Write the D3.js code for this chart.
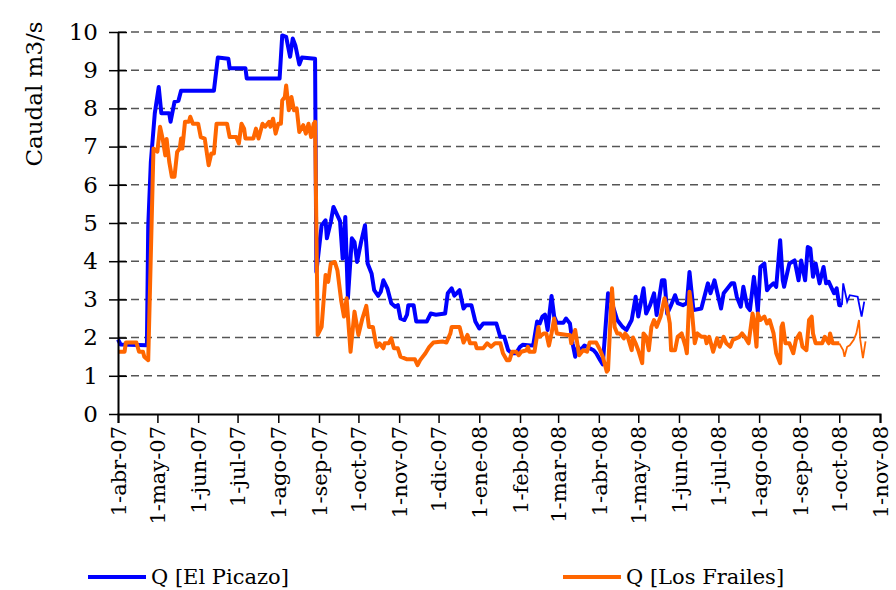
<!DOCTYPE html>
<html>
  <head>
    <meta charset="UTF-8" />
    <title>Caudal El Picazo / Los Frailes</title>
    <script src="https://cdn.jsdelivr.net/npm/d3@7"></script>
    <style>
      body { margin: 0; background: #fff; }
      svg text { font-family: "DejaVu Serif", serif; fill: #000; }
    </style>
  </head>
  <body>
    <div class="chart"></div>
    <script>
      // daily flows, [date, m3/s]
      let picazo = [
        ["2007-04-01", 1.95], ["2007-04-03", 1.82], ["2007-04-23", 1.8], ["2007-04-24", 4.9],
        ["2007-04-26", 6.6], ["2007-04-29", 7.87], ["2007-05-02", 8.56], ["2007-05-04", 7.87],
        ["2007-05-10", 7.87], ["2007-05-11", 7.65], ["2007-05-14", 8.17], ["2007-05-17", 8.2],
        ["2007-05-19", 8.46], ["2007-06-13", 8.46], ["2007-06-16", 9.33], ["2007-06-24", 9.3],
        ["2007-06-25", 9.05], ["2007-07-07", 9.05], ["2007-07-08", 8.78], ["2007-08-02", 8.78],
        ["2007-08-04", 9.91], ["2007-08-07", 9.87], ["2007-08-10", 9.35], ["2007-08-12", 9.83],
        ["2007-08-14", 9.65], ["2007-08-17", 9.15], ["2007-08-19", 9.33], ["2007-08-29", 9.3],
        ["2007-08-30", 3.72], ["2007-09-03", 4.94], ["2007-09-06", 5.07], ["2007-09-07", 4.6],
        ["2007-09-10", 5.03], ["2007-09-12", 5.42], ["2007-09-15", 5.2], ["2007-09-17", 5.05],
        ["2007-09-19", 4.07], ["2007-09-21", 5.16], ["2007-09-23", 3.03], ["2007-09-26", 4.6],
        ["2007-09-28", 4.5], ["2007-09-30", 3.98], ["2007-10-03", 4.5], ["2007-10-06", 4.94],
        ["2007-10-08", 3.94], ["2007-10-11", 3.68], ["2007-10-13", 3.24], ["2007-10-16", 3.09],
        ["2007-10-18", 3.2], ["2007-10-20", 3.5], ["2007-10-23", 3.29], ["2007-10-26", 2.9],
        ["2007-10-29", 2.81], ["2007-10-31", 2.85], ["2007-11-02", 2.5], ["2007-11-05", 2.46],
        ["2007-11-07", 2.6], ["2007-11-08", 2.85], ["2007-11-12", 2.85], ["2007-11-14", 2.42],
        ["2007-11-22", 2.42], ["2007-11-25", 2.63], ["2007-11-29", 2.6], ["2007-12-06", 2.63],
        ["2007-12-08", 3.16], ["2007-12-11", 3.29], ["2007-12-13", 3.1], ["2007-12-17", 3.24],
        ["2007-12-20", 2.76], ["2007-12-22", 2.85], ["2007-12-26", 2.85], ["2007-12-29", 2.42],
        ["2008-01-01", 2.24], ["2008-01-04", 2.37], ["2008-01-14", 2.37], ["2008-01-17", 2.02],
        ["2008-01-20", 2.02], ["2008-01-23", 1.67], ["2008-01-26", 1.59], ["2008-01-29", 1.59],
        ["2008-02-01", 1.76], ["2008-02-03", 1.81], ["2008-02-11", 1.79], ["2008-02-14", 2.42],
        ["2008-02-16", 2.37], ["2008-02-18", 2.55], ["2008-02-20", 2.6], ["2008-02-22", 2.2],
        ["2008-02-25", 3.09], ["2008-02-27", 2.55], ["2008-02-29", 2.39], ["2008-03-05", 2.39],
        ["2008-03-07", 2.5], ["2008-03-10", 2.37], ["2008-03-12", 1.85], ["2008-03-14", 1.5],
        ["2008-03-16", 1.76], ["2008-03-18", 1.67], ["2008-03-21", 1.79], ["2008-03-28", 1.67],
        ["2008-03-30", 1.59], ["2008-04-02", 1.41], ["2008-04-04", 1.3], ["2008-04-08", 3.16],
        ["2008-04-11", 2.9], ["2008-04-15", 2.46], ["2008-04-19", 2.28], ["2008-04-22", 2.2],
        ["2008-04-26", 2.46], ["2008-04-29", 3.07], ["2008-05-01", 2.55], ["2008-05-05", 3.29],
        ["2008-05-07", 2.63], ["2008-05-10", 2.85], ["2008-05-13", 3.16], ["2008-05-15", 2.59],
        ["2008-05-19", 3.5], ["2008-05-21", 3.5], ["2008-05-23", 2.63], ["2008-05-26", 2.85],
        ["2008-05-29", 3.11], ["2008-05-31", 2.9], ["2008-06-04", 2.85], ["2008-06-07", 2.9],
        ["2008-06-09", 3.72], ["2008-06-12", 2.72], ["2008-06-18", 2.76], ["2008-06-23", 3.42],
        ["2008-06-25", 3.16], ["2008-06-28", 3.5], ["2008-06-30", 3.2], ["2008-07-03", 2.76],
        ["2008-07-05", 3.16], ["2008-07-08", 3.29], ["2008-07-11", 3.42], ["2008-07-13", 3.42],
        ["2008-07-15", 3.07], ["2008-07-18", 2.81], ["2008-07-20", 3.33], ["2008-07-23", 2.81],
        ["2008-07-25", 2.72], ["2008-07-28", 3.59], ["2008-07-30", 3.02], ["2008-07-31", 2.68],
        ["2008-08-02", 3.85], ["2008-08-05", 3.94], ["2008-08-07", 3.24], ["2008-08-09", 3.33],
        ["2008-08-12", 3.42], ["2008-08-14", 3.33], ["2008-08-17", 4.55], ["2008-08-19", 3.5],
        ["2008-08-20", 3.33], ["2008-08-24", 3.94], ["2008-08-26", 3.98], ["2008-08-28", 4.02],
        ["2008-08-31", 3.5], ["2008-09-02", 4.02], ["2008-09-05", 3.5], ["2008-09-07", 4.37],
        ["2008-09-09", 4.33], ["2008-09-11", 3.59], ["2008-09-13", 3.94], ["2008-09-16", 3.42],
        ["2008-09-19", 3.85], ["2008-09-21", 3.42], ["2008-09-23", 3.46], ["2008-09-27", 3.16],
        ["2008-09-29", 3.29], ["2008-10-01", 2.85], ["2008-10-03", 2.85], ["2008-10-04", 3.42],
        ["2008-10-07", 2.94], ["2008-10-09", 3.11], ["2008-10-15", 3.07], ["2008-10-18", 2.55],
        ["2008-10-20", 2.94]
      ];

      let frailes = [
        ["2007-04-01", 1.63], ["2007-04-06", 1.63], ["2007-04-07", 1.87], ["2007-04-15", 1.87],
        ["2007-04-17", 1.63], ["2007-04-20", 1.63], ["2007-04-21", 1.5], ["2007-04-24", 1.41],
        ["2007-04-28", 6.95], ["2007-05-01", 6.87], ["2007-05-03", 7.52], ["2007-05-05", 7.2],
        ["2007-05-07", 6.77], ["2007-05-08", 7.2], ["2007-05-10", 6.6], ["2007-05-12", 6.21],
        ["2007-05-14", 6.21], ["2007-05-16", 6.86], ["2007-05-18", 6.95], ["2007-05-19", 7.21],
        ["2007-05-20", 6.95], ["2007-05-22", 7.65], ["2007-05-25", 7.65], ["2007-05-26", 7.78],
        ["2007-05-28", 7.6], ["2007-06-01", 7.6], ["2007-06-03", 7.25], ["2007-06-06", 7.21],
        ["2007-06-09", 6.51], ["2007-06-11", 6.82], ["2007-06-13", 6.82], ["2007-06-15", 7.6],
        ["2007-06-23", 7.6], ["2007-06-25", 7.25], ["2007-06-30", 7.25], ["2007-07-02", 7.08],
        ["2007-07-04", 7.6], ["2007-07-06", 7.47], ["2007-07-07", 7.21], ["2007-07-13", 7.21],
        ["2007-07-15", 7.47], ["2007-07-17", 7.21], ["2007-07-20", 7.6], ["2007-07-22", 7.52],
        ["2007-07-25", 7.65], ["2007-07-26", 7.52], ["2007-07-28", 7.73], ["2007-07-30", 7.34],
        ["2007-08-01", 7.6], ["2007-08-03", 7.6], ["2007-08-04", 8.21], ["2007-08-06", 8.3],
        ["2007-08-07", 8.6], ["2007-08-09", 7.95], ["2007-08-11", 8.3], ["2007-08-13", 7.95],
        ["2007-08-15", 8.0], ["2007-08-17", 7.38], ["2007-08-20", 7.56], ["2007-08-22", 7.34],
        ["2007-08-24", 7.6], ["2007-08-26", 7.25], ["2007-08-28", 7.6], ["2007-08-29", 7.65],
        ["2007-08-31", 2.07], ["2007-09-03", 2.28], ["2007-09-06", 3.64], ["2007-09-08", 3.46],
        ["2007-09-10", 3.94], ["2007-09-13", 3.98], ["2007-09-15", 3.76], ["2007-09-18", 2.94],
        ["2007-09-20", 2.55], ["2007-09-22", 3.03], ["2007-09-25", 1.63], ["2007-09-28", 2.68],
        ["2007-10-01", 2.07], ["2007-10-04", 2.5], ["2007-10-07", 2.83], ["2007-10-09", 2.28],
        ["2007-10-12", 2.28], ["2007-10-14", 1.9], ["2007-10-15", 1.76], ["2007-10-17", 1.85],
        ["2007-10-20", 1.72], ["2007-10-21", 1.85], ["2007-10-24", 1.85], ["2007-10-26", 1.98],
        ["2007-10-28", 1.72], ["2007-10-31", 1.72], ["2007-11-02", 1.5], ["2007-11-07", 1.43],
        ["2007-11-13", 1.43], ["2007-11-15", 1.28], ["2007-11-17", 1.41], ["2007-11-21", 1.59],
        ["2007-11-24", 1.76], ["2007-11-27", 1.87], ["2007-12-04", 1.9], ["2007-12-07", 1.87],
        ["2007-12-10", 2.11], ["2007-12-11", 2.28], ["2007-12-17", 2.28], ["2007-12-20", 1.87],
        ["2007-12-23", 2.07], ["2007-12-25", 1.85], ["2007-12-29", 1.85], ["2007-12-30", 1.72],
        ["2008-01-04", 1.72], ["2008-01-07", 1.85], ["2008-01-10", 1.76], ["2008-01-13", 1.85],
        ["2008-01-17", 1.85], ["2008-01-19", 1.59], ["2008-01-22", 1.41], ["2008-01-24", 1.41],
        ["2008-01-26", 1.63], ["2008-01-29", 1.63], ["2008-01-31", 1.54], ["2008-02-02", 1.63],
        ["2008-02-06", 1.67], ["2008-02-07", 1.76], ["2008-02-08", 1.63], ["2008-02-12", 1.63],
        ["2008-02-15", 2.28], ["2008-02-16", 2.02], ["2008-02-19", 2.11], ["2008-02-21", 2.11],
        ["2008-02-23", 1.79], ["2008-02-25", 2.11], ["2008-02-27", 2.5], ["2008-02-29", 2.11],
        ["2008-03-08", 2.07], ["2008-03-10", 2.07], ["2008-03-11", 1.85], ["2008-03-14", 2.2],
        ["2008-03-16", 1.76], ["2008-03-17", 1.54], ["2008-03-20", 1.67], ["2008-03-23", 1.63],
        ["2008-03-25", 1.87], ["2008-03-30", 1.87], ["2008-04-02", 1.67], ["2008-04-04", 1.5],
        ["2008-04-07", 1.11], ["2008-04-08", 1.15], ["2008-04-11", 3.29], ["2008-04-13", 2.28],
        ["2008-04-15", 2.11], ["2008-04-17", 2.11], ["2008-04-20", 1.98], ["2008-04-21", 2.11],
        ["2008-04-23", 2.02], ["2008-04-26", 1.67], ["2008-04-27", 2.0], ["2008-04-29", 1.85],
        ["2008-05-01", 1.67], ["2008-05-04", 1.33], ["2008-05-05", 2.11], ["2008-05-07", 2.02],
        ["2008-05-09", 1.67], ["2008-05-11", 2.28], ["2008-05-13", 2.46], ["2008-05-15", 2.28],
        ["2008-05-18", 2.55], ["2008-05-21", 3.03], ["2008-05-23", 2.76], ["2008-05-25", 2.37],
        ["2008-05-26", 1.67], ["2008-05-29", 1.67], ["2008-05-31", 2.02], ["2008-06-03", 2.11],
        ["2008-06-06", 1.76], ["2008-06-07", 1.59], ["2008-06-09", 3.2], ["2008-06-11", 2.63],
        ["2008-06-13", 1.85], ["2008-06-15", 2.11], ["2008-06-18", 2.02], ["2008-06-21", 2.02],
        ["2008-06-22", 1.85], ["2008-06-24", 2.02], ["2008-06-27", 1.63], ["2008-06-30", 1.98],
        ["2008-07-02", 1.76], ["2008-07-05", 2.02], ["2008-07-07", 1.85], ["2008-07-10", 1.76],
        ["2008-07-12", 1.94], ["2008-07-17", 2.02], ["2008-07-19", 2.11], ["2008-07-21", 2.02],
        ["2008-07-24", 1.85], ["2008-07-27", 2.63], ["2008-07-28", 2.46], ["2008-07-30", 1.76],
        ["2008-07-31", 2.63], ["2008-08-02", 2.46], ["2008-08-05", 2.55], ["2008-08-07", 2.37],
        ["2008-08-09", 2.46], ["2008-08-12", 2.11], ["2008-08-14", 1.59], ["2008-08-17", 1.33],
        ["2008-08-18", 2.28], ["2008-08-19", 2.37], ["2008-08-21", 1.85], ["2008-08-24", 1.85],
        ["2008-08-27", 1.59], ["2008-08-29", 1.94], ["2008-09-01", 2.11], ["2008-09-03", 1.76],
        ["2008-09-06", 1.67], ["2008-09-08", 2.46], ["2008-09-10", 2.55], ["2008-09-11", 2.11],
        ["2008-09-13", 1.85], ["2008-09-18", 1.85], ["2008-09-20", 2.02], ["2008-09-23", 1.85],
        ["2008-09-24", 2.11], ["2008-09-26", 1.85], ["2008-10-01", 1.85], ["2008-10-04", 1.67],
        ["2008-10-05", 1.5], ["2008-10-07", 1.76], ["2008-10-09", 1.8], ["2008-10-12", 1.94],
        ["2008-10-14", 2.11], ["2008-10-16", 2.46], ["2008-10-17", 1.94], ["2008-10-19", 1.46],
        ["2008-10-21", 1.9]
      ];

      // last days are drawn with a thin line (provisional data)
      let thinFrom = { picazo: "2008-10-03", frailes: "2008-10-01" };

      let monthTicks = [
        "2007-04-01", "2007-05-01", "2007-06-01", "2007-07-01", "2007-08-01",
        "2007-09-01", "2007-10-01", "2007-11-01", "2007-12-01", "2008-01-01",
        "2008-02-01", "2008-03-01", "2008-04-01", "2008-05-01", "2008-06-01",
        "2008-07-01", "2008-08-01", "2008-09-01", "2008-10-01", "2008-11-01"
      ];
      let monthNames = ["ene", "feb", "mar", "abr", "may", "jun", "jul", "ago", "sep", "oct", "nov", "dic"];
      let yTicks = [0, 1, 2, 3, 4, 5, 6, 7, 8, 9, 10];

      let names = ["Q [El Picazo]", "Q [Los Frailes]"];
      let colors = ["#0000ff", "#ff6600"];

      let width = 896;
      let height = 590;
      let margin = { top: 32, right: 16, bottom: 176, left: 118 };
      let innerW = width - margin.left - margin.right;
      let innerH = height - margin.top - margin.bottom;

      let parse = d3.utcParse("%Y-%m-%d");

      let svg = d3
        .select(".chart")
        .append("svg")
        .attr("width", width)
        .attr("height", height);

      let g = svg
        .append("g")
        .attr("transform", `translate(${margin.left},${margin.top})`);

      let x = d3
        .scaleUtc()
        .domain([parse(monthTicks[0]), parse(monthTicks[monthTicks.length - 1])])
        .range([0, innerW]);

      let y = d3.scaleLinear().domain([0, 10]).range([innerH, 0]);

      // dashed grid lines
      g.append("g")
        .selectAll("line")
        .data(yTicks.filter((d) => d > 0))
        .enter()
        .append("line")
        .attr("x1", 0)
        .attr("x2", innerW)
        .attr("y1", (d) => y(d))
        .attr("y2", (d) => y(d))
        .attr("stroke", "#555")
        .attr("stroke-width", 1.5)
        .attr("stroke-dasharray", "8,5");

      // series
      let line = d3
        .line()
        .x((d) => x(parse(d[0])))
        .y((d) => y(d[1]));

      [picazo, frailes].forEach((data, i) => {
        let cut = i == 0 ? thinFrom.picazo : thinFrom.frailes;
        let thick = data.filter((d) => d[0] <= cut);
        let thin = data.filter((d) => d[0] >= cut);
        g.append("path")
          .datum(thick)
          .attr("fill", "none")
          .attr("stroke", colors[i])
          .attr("stroke-width", 4)
          .attr("stroke-linejoin", "round")
          .attr("d", line);
        g.append("path")
          .datum(thin)
          .attr("fill", "none")
          .attr("stroke", colors[i])
          .attr("stroke-width", 1.8)
          .attr("d", line);
      });

      // y axis, ticks crossing the line
      let yAxis = g
        .append("g")
        .call(d3.axisLeft(y).tickValues(yTicks).tickSize(0).tickPadding(20));
      yAxis.select(".domain").attr("stroke", "#000").attr("stroke-width", 2);
      yAxis
        .selectAll(".tick")
        .append("line")
        .attr("x1", -9)
        .attr("x2", (d) => (d > 0 ? 9 : 0))
        .attr("stroke", "#000")
        .attr("stroke-width", 1.5);
      yAxis.selectAll("text").attr("font-size", 23).attr("font-family", "DejaVu Serif");

      // x axis with rotated month labels
      let xAxis = g
        .append("g")
        .attr("transform", `translate(0,${innerH})`)
        .call(
          d3
            .axisBottom(x)
            .tickValues(monthTicks.map(parse))
            .tickSize(9)
            .tickFormat((d) => `1-${monthNames[d.getUTCMonth()]}-${String(d.getUTCFullYear()).slice(2)}`)
        );
      xAxis.select(".domain").attr("stroke", "#000").attr("stroke-width", 2);
      xAxis.selectAll(".tick line").attr("stroke", "#000").attr("stroke-width", 1.5);
      xAxis
        .selectAll("text")
        .attr("font-size", 21)
        .attr("font-family", "DejaVu Serif")
        .attr("transform", "rotate(-90)")
        .attr("text-anchor", "end")
        .attr("dy", "0.35em")
        .attr("x", -12)
        .attr("y", 0);

      // y title
      svg
        .append("text")
        .attr("transform", "translate(42,94) rotate(-90)")
        .attr("text-anchor", "middle")
        .attr("font-size", 23)
        .text("Caudal m3/s");

      // legend
      let legendX = [88, 563];
      let legend = svg
        .selectAll(".legend")
        .data(names)
        .enter()
        .append("g")
        .attr("transform", (d, i) => `translate(${legendX[i]},577)`);
      legend
        .append("line")
        .attr("x1", 0)
        .attr("x2", 58)
        .attr("stroke", (d, i) => colors[i])
        .attr("stroke-width", 4);
      legend
        .append("text")
        .attr("x", 63)
        .attr("dy", "0.35em")
        .attr("font-size", 21)
        .text((d) => d);
    </script>
  </body>
</html>
